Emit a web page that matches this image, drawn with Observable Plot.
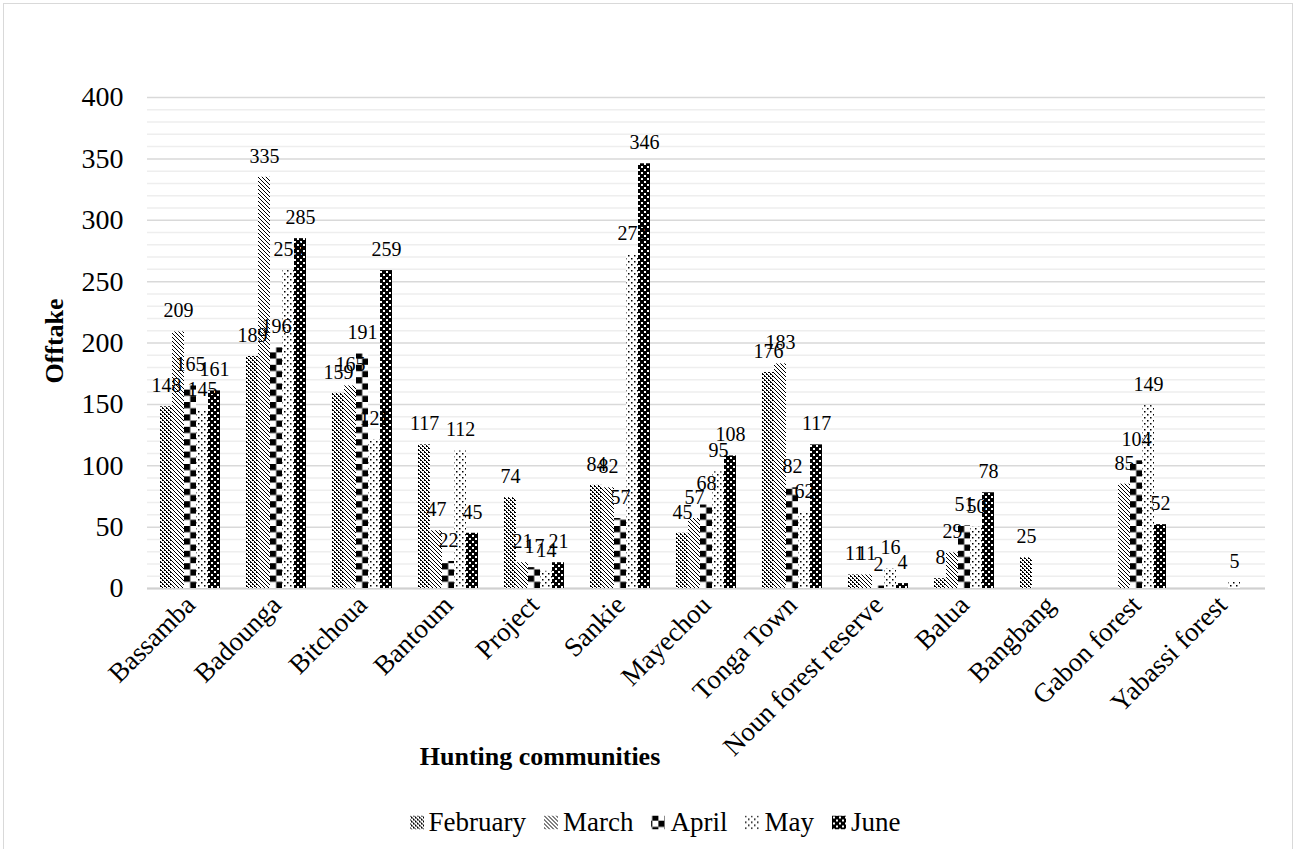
<!DOCTYPE html>
<html>
<head>
<meta charset="utf-8">
<script src="https://cdn.jsdelivr.net/npm/d3@7"></script>
<script src="https://cdn.jsdelivr.net/npm/@observablehq/plot@0.6"></script>
<style>
  html, body { margin: 0; padding: 0; background: #fff; }
  #wrap { position: relative; width: 1296px; height: 849px; overflow: hidden;
          font-family: "Liberation Serif", "Times New Roman", serif; color: #000; }
  #frame { position: absolute; left: 3px; top: 3px; width: 1290px; height: 860px;
           border: 1px solid #d9d9d9; box-sizing: border-box; }
  #chart { position: absolute; left: 0; top: 0; }
  .axis-title { position: absolute; font-weight: bold; font-size: 26px; white-space: nowrap; }
  #ytitle { left: 55px; top: 341px; transform: translate(-50%, -50%) rotate(-90deg); }
  #xtitle { left: 540px; top: 757px; transform: translate(-50%, -50%); }
  #legend { position: absolute; left: 0; width: 1310px; top: 822px; transform: translateY(-50%);
            display: flex; justify-content: center; align-items: center; font-size: 27px; }
  .item { display: flex; align-items: center; margin: 0 9px; }
  .item svg { margin-right: 5px; }
</style>
</head>
<body>
<div id="wrap">
  <div id="frame"></div>
  <!-- fill patterns shared by the bars and the legend swatches -->
  <svg width="0" height="0" style="position:absolute">
    <defs>
      <pattern id="pat-february" width="4" height="4" patternUnits="userSpaceOnUse">
        <rect width="4" height="4" fill="#fff"/>
        <rect x="0" y="0" width="1" height="1" fill="#000"/>
        <rect x="1" y="1" width="1" height="1" fill="#000"/>
        <rect x="2" y="2" width="1" height="1" fill="#000"/>
        <rect x="3" y="3" width="1" height="1" fill="#000"/>
        <rect x="3" y="0" width="1" height="1" fill="#000"/>
        <rect x="1" y="2" width="1" height="1" fill="#000"/>
      </pattern>
      <pattern id="pat-march" width="4" height="4" patternUnits="userSpaceOnUse">
        <rect width="4" height="4" fill="#fff"/>
        <rect x="0" y="0" width="1" height="1" fill="#000"/>
        <rect x="1" y="1" width="1" height="1" fill="#000"/>
        <rect x="2" y="2" width="1" height="1" fill="#000"/>
        <rect x="3" y="3" width="1" height="1" fill="#000"/>
      </pattern>
      <!-- large checker, tile origin set on the April band so squares fill the bar width -->
      <pattern id="pat-april" width="12.4" height="12.4" patternUnits="userSpaceOnUse" x="181" y="588">
        <rect width="12.4" height="12.4" fill="#fff"/>
        <rect x="0" y="0" width="6.2" height="6.2" fill="#000"/>
        <rect x="6.2" y="6.2" width="6.2" height="6.2" fill="#000"/>
      </pattern>
      <pattern id="pat-may" width="6" height="6" patternUnits="userSpaceOnUse">
        <rect width="6" height="6" fill="#fff"/>
        <rect x="0" y="0" width="1.5" height="1.5" fill="#000"/>
        <rect x="3" y="3" width="1.5" height="1.5" fill="#000"/>
      </pattern>
      <pattern id="pat-june" width="6" height="6" patternUnits="userSpaceOnUse">
        <rect width="6" height="6" fill="#000"/>
        <rect x="1" y="1" width="2" height="2" fill="#fff"/>
        <rect x="4" y="4" width="2" height="2" fill="#fff"/>
      </pattern>
    </defs>
  </svg>
  <div id="chart"></div>
  <div id="ytitle" class="axis-title">Offtake</div>
  <div id="xtitle" class="axis-title">Hunting communities</div>
  <div id="legend"></div>
</div>
<script>
// Monthly offtake per hunting community
const communities = ["Bassamba", "Badounga", "Bitchoua", "Bantoum", "Project", "Sankie",
  "Mayechou", "Tonga Town", "Noun forest reserve", "Balua", "Bangbang", "Gabon forest", "Yabassi forest"];
const months = ["February", "March", "April", "May", "June"];

const february = [148, 189, 159, 117, 74, 84, 45, 176, 11, 8, 25, null, null];
const march    = [209, 335, 165, 47, 21, 82, 57, 183, 11, 29, null, 85, null];
const april    = [165, 196, 191, 22, 17, 57, 68, 82, 2, 51, null, 104, null];
const may      = [145, 259, 121, 112, 14, 272, 95, 62, 16, 50, null, 149, 5];
const june     = [161, 285, 259, 45, 21, 346, 108, 117, 4, 78, null, 52, null];

const yTicks = [0, 50, 100, 150, 200, 250, 300, 350, 400];

const series = [february, march, april, may, june];
const rows = communities.flatMap((community, i) =>
  months.map((month, j) => ({community, month, value: series[j][i]}))
).filter(d => d.value != null);

const minorGrid = d3.range(10, 400, 10).filter(v => v % 50 !== 0);
const patternOf = m => `url(#pat-${m.toLowerCase()})`;

const chart = Plot.plot({
  width: 1296,
  height: 760,
  marginLeft: 144,
  marginRight: 29,
  marginTop: 97,
  marginBottom: 172,
  style: {fontFamily: "'Liberation Serif', 'Times New Roman', serif", fontSize: "26px", color: "#000", background: "transparent", overflow: "visible"},
  fx: {domain: communities, padding: 0, label: null},
  x: {domain: months, paddingInner: 0, paddingOuter: 0.98, axis: null},
  y: {domain: [0, 400], label: null},
  color: {domain: months, range: months.map(patternOf)},
  marks: [
    Plot.ruleY(minorGrid, {stroke: "#eeeeee", strokeWidth: 1.5}),
    Plot.ruleY(yTicks, {stroke: "#d9d9d9", strokeWidth: 1.5}),
    Plot.ruleY([0], {stroke: "#d0d0d0", strokeWidth: 2}),
    Plot.axisY(yTicks, {tickSize: 0, tickPadding: 24, fontSize: 28, label: null}),
    Plot.axisFx({anchor: "bottom", tickRotate: -45, tickSize: 0, tickPadding: 12, fontSize: 27, label: null}),
    Plot.barY(rows, {fx: "community", x: "month", y: "value", fill: "month"}),
    Plot.text(rows, {fx: "community", x: "month", y: "value", text: d => String(d.value),
      dy: -21, fontSize: 20, fill: "#000"})
  ]
});
document.getElementById("chart").appendChild(chart);

// Legend: pattern swatch followed by month name
const legend = document.getElementById("legend");
for (const m of months) {
  const item = document.createElement("div");
  item.className = "item";
  item.innerHTML = `<svg width="14" height="14"><rect width="14" height="14" fill="${patternOf(m)}"/></svg><span>${m}</span>`;
  legend.appendChild(item);
}
</script>
</body>
</html>
